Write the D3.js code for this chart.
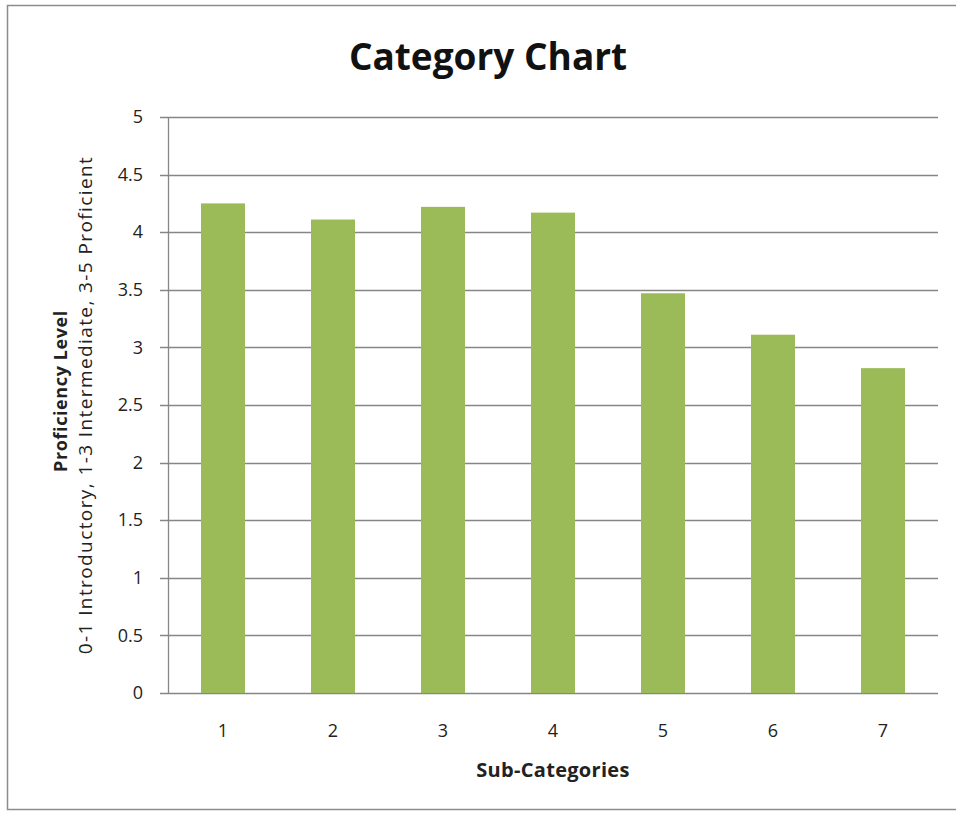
<!DOCTYPE html>
<html>
<head>
<meta charset="utf-8">
<script src="https://cdn.jsdelivr.net/npm/d3@7"></script>
<style>
  body { margin: 0; background: #fff; }
  svg text { font-family: "Open Sans", "Noto Sans", sans-serif; fill: #222; }
</style>
</head>
<body>
<svg id="chart" width="956" height="814"></svg>
<script>
// data
var categories = ['1', '2', '3', '4', '5', '6', '7'];
var values = [4.25, 4.11, 4.22, 4.17, 3.47, 3.11, 2.82];
var yTicks = [0, 0.5, 1, 1.5, 2, 2.5, 3, 3.5, 4, 4.5, 5];

var svg = d3.select('#chart');
var margin = {left: 168, right: 18, top: 117, bottom: 121};
var w = 956 - margin.left - margin.right;
var h = 814 - margin.top - margin.bottom;

// outer frame
svg.append('rect')
	.attr('x', 7.5)
	.attr('y', 5.5)
	.attr('width', 960)
	.attr('height', 804)
	.style('fill', 'none')
	.style('stroke', '#8c8c8c')
	.style('stroke-width', 1.5);

svg.append('text')
	.attr('x', 488)
	.attr('y', 70)
	.attr('text-anchor', 'middle')
	.style('font-size', '37px')
	.style('font-weight', 'bold')
	.style('fill', '#111')
	.text('Category Chart');

var g = svg.append('g')
	.attr('transform', 'translate(' + margin.left + ',' + margin.top + ')');

var x = d3.scaleBand()
	.domain(categories)
	.range([0, w])
	.paddingInner(0.6)
	.paddingOuter(0.3);

var y = d3.scaleLinear()
	.domain([0, 5])
	.range([h, 0]);

// gridlines
g.append('g')
	.selectAll('line')
	.data(yTicks)
	.enter().append('line')
		.attr('x1', -8)
		.attr('x2', w)
		.attr('y1', function(d) { return Math.round(y(d)) + 0.5; })
		.attr('y2', function(d) { return Math.round(y(d)) + 0.5; })
		.style('stroke', '#868686')
		.style('stroke-width', 1.3);

g.selectAll('rect.bar')
	.data(values)
	.enter().append('rect')
		.attr('class', 'bar')
		.attr('x', function(d, i) { return x(categories[i]); })
		.attr('y', function(d) { return y(d); })
		.attr('width', x.bandwidth())
		.attr('height', function(d) { return h - y(d); })
		.style('fill', '#9bbb59');

// y axis
var yAxis = g.append('g')
	.call(d3.axisLeft(y).tickValues(yTicks).tickSize(8).tickPadding(17).tickFormat(d3.format('')));
yAxis.select('.domain').attr('d', 'M0.5,0V' + (h + 1)).style('stroke', '#868686').style('stroke-width', 1.3);
yAxis.selectAll('.tick line').remove();
yAxis.selectAll('text')
	.style('font-size', '18px')
	.style('fill', '#222');

// x axis
var xAxis = g.append('g')
	.attr('transform', 'translate(0,' + h + ')')
	.call(d3.axisBottom(x).tickSize(0).tickPadding(31));
xAxis.select('.domain').remove();
xAxis.selectAll('text')
	.style('font-size', '18px')
	.style('fill', '#222');

svg.append('text')
	.attr('x', margin.left + w / 2)
	.attr('y', 777)
	.attr('text-anchor', 'middle')
	.style('font-size', '20px')
	.style('font-weight', 'bold')
	.style('letter-spacing', '0.3px')
	.text('Sub-Categories');

// y axis title, two lines
var ty = svg.append('text')
	.attr('transform', 'translate(70,' + (margin.top + h / 2) + ') rotate(-90)')
	.attr('text-anchor', 'middle');
ty.append('tspan')
	.attr('x', 14)
	.attr('y', -3)
	.style('font-size', '18px')
	.style('font-weight', 'bold')
	.style('letter-spacing', '0.6px')
	.text('Proficiency  Level');
ty.append('tspan')
	.attr('x', 0)
	.attr('y', 22)
	.style('font-size', '19px')
	.style('letter-spacing', '1.4px')
	.text('0-1 Introductory, 1-3 Intermediate, 3-5 Proficient');
</script>
</body>
</html>
